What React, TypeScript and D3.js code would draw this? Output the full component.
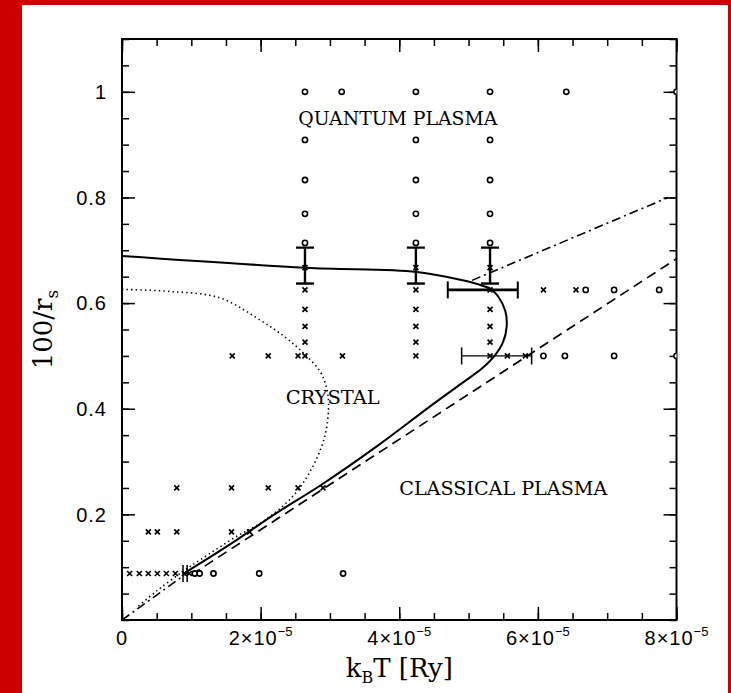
import React, { useEffect, useRef } from "react";
import { select, scaleLinear, axisBottom, axisTop, axisLeft, axisRight, line, curveCatmullRom, curveLinear } from "d3";

// temperatures in units of 1e-5 Ry
const columnT = [2.64, 4.24, 5.31];
const quantumY = [1, 0.909, 0.833, 0.769, 0.714];
const crystalY = [0.625, 0.588, 0.556, 0.526, 0.5];
const errCenterY = 0.667;
const errLoY = 0.637;
const errHiY = 0.705;

const topCirclesT = [3.17, 6.41, 8.0];
const row625Crosses = [6.08, 6.55];
const row625Circles = [6.69, 7.1, 7.75];
const row50Crosses = [1.59, 2.11, 2.54, 3.18, 5.56, 5.82];
const row50Circles = [6.08, 6.39, 7.1, 8.0];
const row25Crosses = [0.79, 1.58, 2.11, 2.54, 2.9];
const row167Crosses = [0.38, 0.51, 0.79, 1.58, 1.84];
const row088Crosses = [0.11, 0.25, 0.38, 0.51, 0.64, 0.77, 0.9, 0.97];
const row088Circles = [1.05, 1.12, 1.32, 1.98, 3.19];

// horizontal error bars [y, lo, hi, width]
const hErrBars = [
  [0.625, 4.7, 5.71, 2.6],
  [0.5, 4.9, 5.91, 1.4],
  [0.088, 0.88, 0.94, 1.4],
];

// melting line: lower branch + reentrant bend (smooth), upper branch (nearly straight)
const meltingLower = [
  [0.88, 0.087], [1.58, 0.145], [2.2, 0.2], [2.9, 0.258], [3.7, 0.331],
  [4.44, 0.404], [4.9, 0.448], [5.2, 0.477], [5.38, 0.501], [5.5, 0.527],
  [5.55, 0.556], [5.53, 0.585], [5.43, 0.612], [5.31, 0.628],
];
const meltingUpper = [[5.31, 0.628], [5.1, 0.637], [4.88, 0.644], [4.25, 0.659], [2.65, 0.667], [0, 0.689]];
const dottedLine = [
  [0, 0.626], [0.7, 0.622], [1.41, 0.61], [1.99, 0.568], [2.35, 0.536], [2.62, 0.505],
  [2.86, 0.47], [2.95, 0.44], [2.98, 0.41], [2.93, 0.35], [2.75, 0.29], [2.47, 0.235],
  [2.04, 0.187], [1.65, 0.158], [1.13, 0.114], [0.88, 0.092], [0.5, 0.055], [0.2, 0.022],
];
const dashDotLow = [[0, 0], [0.9, 0.085]];
const dashDotHigh = [[5.05, 0.643], [7.88, 0.8]];
const dashedLine = [[1.0, 0.0855], [8.0, 0.684]];

const xMajor = [0, 2, 4, 6, 8];
const yMajor = [0.2, 0.4, 0.6, 0.8, 1];

function PhaseDiagram() {
  const svgRef = useRef<SVGSVGElement>(null);

  useEffect(() => {
    const svg = select(svgRef.current);
    svg.selectAll("*").remove();

    const x = scaleLinear().domain([0, 8]).range([122, 676.5]);
    const y = scaleLinear().domain([0, 1.1]).range([620, 39]);
    const [x0, x1] = x.range();
    const [y0, y1] = y.range();

    // red frame of the slide
    svg.append("rect").attr("width", 731).attr("height", 693).attr("fill", "#cc0000");
    svg.append("rect").attr("x", 22).attr("y", 5).attr("width", 706).attr("height", 688).attr("fill", "#fff");

    svg.append("clipPath").attr("id", "plot-clip")
      .append("rect").attr("x", x0).attr("y", y1).attr("width", x1 - x0).attr("height", y0 - y1);

    // axes (ticks inward on all four sides)
    const xMinor = x.ticks(16);
    const yMinor = y.ticks(22);
    const tickStyle = (g: any) => {
      g.select(".domain").remove();
      g.selectAll("text").remove();
      g.selectAll("line").attr("stroke", "#000").attr("stroke-width", 1.5);
    };
    const addAxis = (axis: any, transform: string) => {
      svg.append("g").attr("transform", transform).call(axis).call(tickStyle);
    };
    addAxis(axisBottom(x).tickValues(xMinor).tickSize(-7), `translate(0,${y0})`);
    addAxis(axisBottom(x).tickValues(xMajor).tickSize(-13), `translate(0,${y0})`);
    addAxis(axisTop(x).tickValues(xMinor).tickSize(-7), `translate(0,${y1})`);
    addAxis(axisTop(x).tickValues(xMajor).tickSize(-13), `translate(0,${y1})`);
    addAxis(axisLeft(y).tickValues(yMinor).tickSize(-7), `translate(${x0},0)`);
    addAxis(axisLeft(y).tickValues(yMajor).tickSize(-13), `translate(${x0},0)`);
    addAxis(axisRight(y).tickValues(yMinor).tickSize(-7), `translate(${x1},0)`);
    addAxis(axisRight(y).tickValues(yMajor).tickSize(-13), `translate(${x1},0)`);

    svg.append("rect")
      .attr("x", x0).attr("y", y1).attr("width", x1 - x0).attr("height", y0 - y1)
      .attr("fill", "none").attr("stroke", "#000").attr("stroke-width", 2);

    // tick labels
    const xl = svg.append("g")
      .attr("font-family", "Liberation Sans, Arial, sans-serif")
      .attr("font-size", 20).attr("letter-spacing", 1).attr("text-anchor", "middle");
    xMajor.forEach((t) => {
      const txt = xl.append("text").attr("x", x(t)).attr("y", y0 + 25);
      if (t === 0) { txt.text("0"); return; }
      txt.append("tspan").text(`${t}×10`);
      txt.append("tspan").attr("dy", -9).attr("font-size", 13).attr("letter-spacing", 0).text("−5");
    });
    svg.append("g")
      .attr("font-family", "Liberation Sans, Arial, sans-serif")
      .attr("font-size", 20).attr("letter-spacing", 1).attr("text-anchor", "end")
      .selectAll("text").data(yMajor).join("text")
      .attr("x", x0 - 15).attr("y", (d) => y(d)).attr("dy", "0.36em")
      .text((d) => String(d));

    // axis titles
    const xt = svg.append("text")
      .attr("x", (x0 + x1) / 2).attr("y", 677).attr("text-anchor", "middle")
      .attr("font-family", "DejaVu Serif, serif").attr("font-size", 26);
    xt.append("tspan").text("k");
    xt.append("tspan").attr("dy", 6).attr("font-size", 16).text("B");
    xt.append("tspan").attr("dy", -6).text("T [Ry]");

    const yt = svg.append("text")
      .attr("transform", `translate(52,${(y0 + y1) / 2}) rotate(-90)`)
      .attr("text-anchor", "middle")
      .attr("font-family", "DejaVu Serif, serif").attr("font-size", 26);
    yt.append("tspan").text("100/r");
    yt.append("tspan").attr("dy", 6).attr("font-size", 17).text("s");

    // region labels
    const regions: [string, number, number, number][] = [
      ["QUANTUM PLASMA", 3.98, 0.938, 199],
      ["CRYSTAL", 3.04, 0.409, 94],
      ["CLASSICAL PLASMA", 5.5, 0.2365, 208],
    ];
    svg.append("g").attr("font-family", "DejaVu Serif, serif").attr("font-size", 19)
      .selectAll("text").data(regions).join("text")
      .attr("x", (d) => x(d[1]) - d[3] / 2).attr("y", (d) => y(d[2]))
      .attr("textLength", (d) => d[3]).attr("lengthAdjust", "spacingAndGlyphs")
      .text((d) => d[0]);

    const plot = svg.append("g").attr("clip-path", "url(#plot-clip)");

    // curves
    const smooth = line<number[]>().x((d) => x(d[0])).y((d) => y(d[1])).curve(curveCatmullRom.alpha(0.5));
    const straight = line<number[]>().x((d) => x(d[0])).y((d) => y(d[1])).curve(curveLinear);
    plot.append("path").datum(meltingLower).attr("d", smooth)
      .attr("fill", "none").attr("stroke", "#000").attr("stroke-width", 2);
    plot.append("path").datum(meltingUpper).attr("d", smooth)
      .attr("fill", "none").attr("stroke", "#000").attr("stroke-width", 2);
    plot.append("path").datum(dottedLine).attr("d", smooth)
      .attr("fill", "none").attr("stroke", "#000").attr("stroke-width", 1.6)
      .attr("stroke-dasharray", "1.4 3.2");
    [dashDotLow, dashDotHigh].forEach((seg) => {
      plot.append("path").datum(seg).attr("d", straight)
        .attr("fill", "none").attr("stroke", "#000").attr("stroke-width", 1.6)
        .attr("stroke-dasharray", "9 4 2 4");
    });
    plot.append("path").datum(dashedLine).attr("d", straight)
      .attr("fill", "none").attr("stroke", "#000").attr("stroke-width", 1.7)
      .attr("stroke-dasharray", "10 6");

    // error bars
    const eb = plot.append("g").attr("stroke", "#000");
    columnT.forEach((t) => {
      eb.append("line").attr("x1", x(t)).attr("x2", x(t)).attr("y1", y(errLoY)).attr("y2", y(errHiY)).attr("stroke-width", 2.4);
      [errLoY, errHiY].forEach((v) => {
        eb.append("line").attr("x1", x(t) - 9).attr("x2", x(t) + 9).attr("y1", y(v)).attr("y2", y(v)).attr("stroke-width", 2.4);
      });
    });
    hErrBars.forEach(([v, lo, hi, w]) => {
      eb.append("line").attr("x1", x(lo)).attr("x2", x(hi)).attr("y1", y(v)).attr("y2", y(v)).attr("stroke-width", w);
      [lo, hi].forEach((t) => {
        eb.append("line").attr("x1", x(t)).attr("x2", x(t)).attr("y1", y(v) - 8.5).attr("y2", y(v) + 8.5).attr("stroke-width", Math.max(1.5, w - 0.6));
      });
    });

    // markers
    const circles: number[][] = [];
    const crosses: number[][] = [];
    columnT.forEach((t) => {
      quantumY.forEach((v) => circles.push([t, v]));
      crosses.push([t, errCenterY]);
      crystalY.forEach((v) => crosses.push([t, v]));
    });
    topCirclesT.forEach((t) => circles.push([t, 1]));
    row625Crosses.forEach((t) => crosses.push([t, 0.625]));
    row625Circles.forEach((t) => circles.push([t, 0.625]));
    row50Crosses.forEach((t) => crosses.push([t, 0.5]));
    row50Circles.forEach((t) => circles.push([t, 0.5]));
    row25Crosses.forEach((t) => crosses.push([t, 0.25]));
    row167Crosses.forEach((t) => crosses.push([t, 0.167]));
    row088Crosses.forEach((t) => crosses.push([t, 0.088]));
    row088Circles.forEach((t) => circles.push([t, 0.088]));

    plot.append("g").selectAll("circle").data(circles).join("circle")
      .attr("cx", (d) => x(d[0])).attr("cy", (d) => y(d[1])).attr("r", 2.6)
      .attr("fill", "#fff").attr("stroke", "#000").attr("stroke-width", 1.6);
    plot.append("g").selectAll("path").data(crosses).join("path")
      .attr("transform", (d) => `translate(${x(d[0])},${y(d[1])})`)
      .attr("d", "M-2.5,-2.5L2.5,2.5M-2.5,2.5L2.5,-2.5")
      .attr("stroke", "#000").attr("stroke-width", 1.7);
  }, []);

  return (
    <svg ref={svgRef} width={731} height={693} style={{ position: "absolute", left: 0, top: 0 }} />
  );
}

export default function App() {
  return <PhaseDiagram />;
}
